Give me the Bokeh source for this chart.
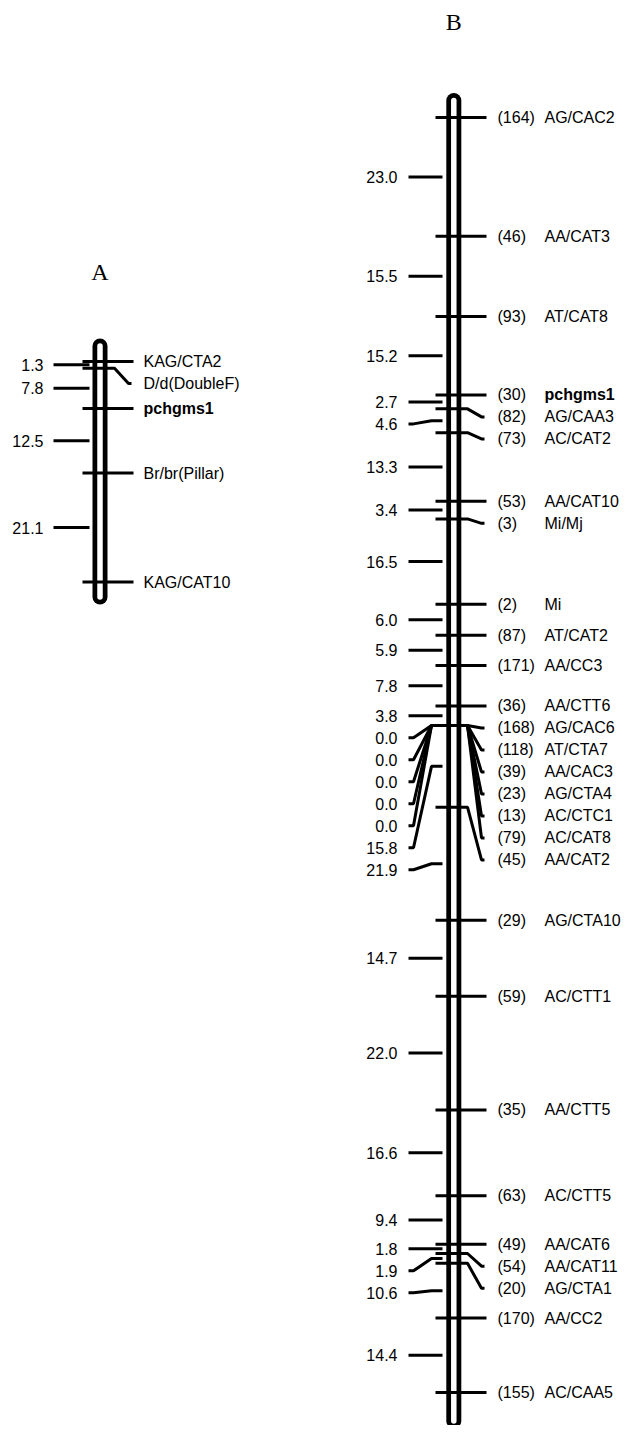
import numpy as np
from bokeh.plotting import figure
from bokeh.models import Range1d
from bokeh.embed import file_html
from bokeh.resources import INLINE
from bokeh.core.properties import value

# ---------------- data ----------------
a_markers = ["KAG/CTA2", "D/d(DoubleF)", "pchgms1", "Br/br(Pillar)", "KAG/CAT10"]
a_ids = ["", "", "", "", ""]
a_intervals = [1.3, 7.8, 12.5, 21.1]

b_markers = ["AG/CAC2", "AA/CAT3", "AT/CAT8", "pchgms1", "AG/CAA3", "AC/CAT2",
             "AA/CAT10", "Mi/Mj", "Mi", "AT/CAT2", "AA/CC3", "AA/CTT6",
             "AG/CAC6", "AT/CTA7", "AA/CAC3", "AG/CTA4", "AC/CTC1", "AC/CAT8",
             "AA/CAT2", "AG/CTA10", "AC/CTT1", "AA/CTT5", "AC/CTT5", "AA/CAT6",
             "AA/CAT11", "AG/CTA1", "AA/CC2", "AC/CAA5"]
b_ids = ["(164)", "(46)", "(93)", "(30)", "(82)", "(73)", "(53)", "(3)", "(2)",
         "(87)", "(171)", "(36)", "(168)", "(118)", "(39)", "(23)", "(13)",
         "(79)", "(45)", "(29)", "(59)", "(35)", "(63)", "(49)", "(54)", "(20)",
         "(170)", "(155)"]
b_intervals = [23.0, 15.5, 15.2, 2.7, 4.6, 13.3, 3.4, 16.5, 6.0, 5.9, 7.8, 3.8,
               0.0, 0.0, 0.0, 0.0, 0.0, 15.8, 21.9, 14.7, 22.0, 16.6, 9.4, 1.8,
               1.9, 10.6, 14.4]
bold_markers = ["pchgms1"]

# ---------------- layout ----------------
PX = 5.166            # pixels per cM
Y0 = 117.0            # canvas y of first marker of chromosome B
W, H = 622, 1425
SP = 22.0 / PX        # minimum label spacing in cM
FONT = "Liberation Sans"

p = figure(width=W, height=H, output_backend="svg", toolbar_location=None,
           x_range=Range1d(0, W),
           y_range=Range1d((H - Y0) / PX, (0 - Y0) / PX),
           min_border=0)
p.axis.visible = False
p.grid.visible = False
p.outline_line_color = None
p.background_fill_color = "white"
p.border_fill_color = "white"


def push(vals, sp):
    out = []
    for v in vals:
        if out and v < out[-1] + sp:
            out.append(out[-1] + sp)
        else:
            out.append(float(v))
    return np.array(out)


def draw(markers, ids, intervals, offset, xc, pad_top, pad_bot,
         mk_x0, mk_x1, tk_x0, tk_x1, lab_left_x, id_x, name_x, title, title_y):
    pos = offset + np.concatenate([[0.0], np.cumsum(intervals)])
    # chromosome body
    top, bot = pos[0] - pad_top, pos[-1] + pad_bot
    p.line([xc, xc], [top, bot], line_width=15, line_color="black", line_cap="round")
    p.line([xc, xc], [top, bot], line_width=5.5, line_color="white", line_cap="round")

    # marker lines (right side), with connectors for displaced labels
    lab = push(pos, SP)
    xs, ys = [], []
    for m, l in zip(pos, lab):
        if abs(l - m) < 1e-6:
            xs.append([mk_x0, mk_x1]); ys.append([m, m])
        else:
            xb = mk_x0 + 32
            xs.append([mk_x0, xb, mk_x1 - 5, mk_x1 - 2]); ys.append([m, m, l, l])
    p.multi_line(xs, ys, line_width=3, line_color="black")

    # interval ticks (left side)
    mids = (pos[:-1] + pos[1:]) / 2
    mlab = push(mids, SP)
    xs, ys = [], []
    for m, l in zip(mids, mlab):
        if abs(l - m) < 1e-6:
            xs.append([tk_x0, tk_x1]); ys.append([m, m])
        else:
            xs.append([tk_x0, tk_x0 + 5, tk_x1 - 11, tk_x1]); ys.append([l, l, m, m])
    p.multi_line(xs, ys, line_width=3, line_color="black")

    p.text([lab_left_x] * len(mids), mlab, text=[f"{v:.1f}" for v in intervals],
           text_font=value(FONT), text_font_size="16px", text_align="right",
           text_baseline="middle", text_color="black")

    idx_b = [i for i, n in enumerate(markers) if n in bold_markers]
    idx_n = [i for i, n in enumerate(markers) if n not in bold_markers]
    p.text([name_x] * len(idx_n), lab[idx_n], text=[markers[i] for i in idx_n],
           text_font=value(FONT), text_font_size="16px", text_align="left",
           text_baseline="middle", text_color="black")
    p.text([name_x] * len(idx_b), lab[idx_b], text=[markers[i] for i in idx_b],
           text_font=value(FONT), text_font_size="16px", text_font_style="bold",
           text_align="left", text_baseline="middle", text_color="black")
    if any(ids):
        p.text([id_x] * len(ids), lab, text=ids, text_font=value(FONT),
               text_font_size="16px", text_align="left", text_baseline="middle",
               text_color="black")
    p.text([xc], [title_y], text=[title], text_font=value("Liberation Serif"),
           text_font_size="24px", text_align="center", text_baseline="middle",
           text_color="black")


# chromosome A (offset so its first marker sits at canvas y 361)
draw(a_markers, a_ids, a_intervals, (361 - Y0) / PX, 99.5, 3.0, 2.9,
     82, 133, 53, 89, 43, None, 143, "A", (271 - Y0) / PX)
# chromosome B
draw(b_markers, b_ids, b_intervals, 0.0, 453.3, 3.3, 5.5,
     435, 486, 408, 442, 397, 497, 544, "B", (21 - Y0) / PX)

open("out.html", "w").write(file_html(p, INLINE))
